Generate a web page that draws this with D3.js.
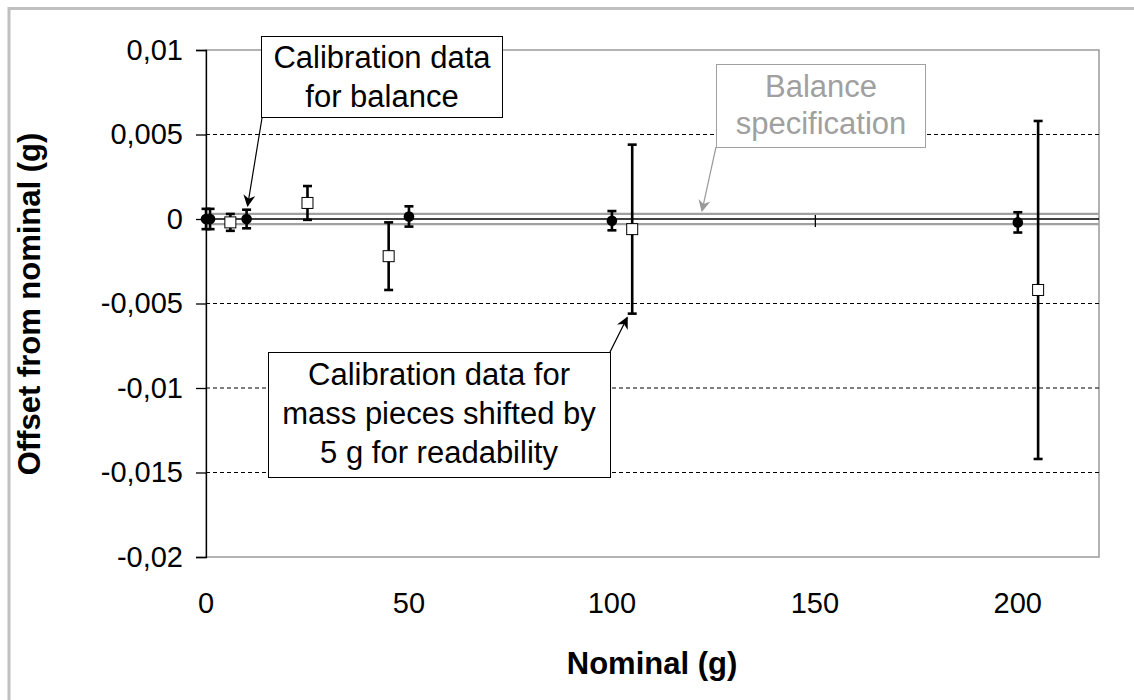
<!DOCTYPE html>
<html>
<head>
<meta charset="utf-8">
<script src="https://cdn.jsdelivr.net/npm/d3@7"></script>
<style>
  html, body { margin: 0; padding: 0; background: #fff; }
  svg { display: block; font-family: "Liberation Sans", Arial, sans-serif; }
</style>
</head>
<body>
<svg id="chart" width="1134" height="700"></svg>
<script>
// ---------- data ----------
const balanceNominal = [0, 1, 10, 50, 100, 200];
const balanceOffset  = [0.0000, 0.0000, 0.0000, 0.00015, -0.0001, -0.0002];
const balanceUnc     = [0.0006, 0.0006, 0.00055, 0.0006, 0.00057, 0.0006];

const massNominalShifted = [6, 25, 45, 105, 205];
const massOffset         = [-0.0002, 0.00095, -0.0022, -0.0006, -0.0042];
const massUnc            = [0.0005, 0.001, 0.002, 0.005, 0.01];

const specLimit = 0.0003;

const yTicks = [0.01, 0.005, 0, -0.005, -0.01, -0.015, -0.02];
const yTickLabels = ["0,01", "0,005", "0", "-0,005", "-0,01", "-0,015", "-0,02"];
const gridValues = [0.005, -0.005, -0.01, -0.015];
const xTicks = [0, 50, 100, 150, 200];
const xTickLabels = ["0", "50", "100", "150", "200"];

// ---------- layout ----------
const svg = d3.select("#chart");
const plot = { left: 206, right: 1099, top: 50, bottom: 557 };
const x = d3.scaleLinear().domain([0, 220]).range([plot.left, plot.right]);
const y = d3.scaleLinear().domain([-0.02, 0.01]).range([plot.bottom, plot.top]);

// outer frame
svg.append("rect").attr("x", 9).attr("y", 8.5).attr("width", 1300).attr("height", 900)
  .attr("fill", "none").attr("stroke", "#c0c0c0").attr("stroke-width", 3);

// plot border (gray)
svg.append("rect").attr("x", plot.left).attr("y", plot.top)
  .attr("width", plot.right - plot.left).attr("height", plot.bottom - plot.top)
  .attr("fill", "none").attr("stroke", "#9a9a9a").attr("stroke-width", 1.5);

// gridlines
svg.append("g").selectAll("line").data(gridValues).join("line")
  .attr("x1", plot.left).attr("x2", plot.right)
  .attr("y1", d => y(d)).attr("y2", d => y(d))
  .attr("stroke", "#000").attr("stroke-width", 1).attr("stroke-dasharray", "4,3");

// y axis
const yAxis = d3.axisLeft(y).tickValues(yTicks).tickSize(10)
  .tickFormat((d, i) => yTickLabels[i]).tickPadding(13);
const gy = svg.append("g").attr("transform", `translate(${plot.left},0)`).call(yAxis);
gy.select(".domain").attr("stroke", "#000").attr("stroke-width", 1.3);
gy.selectAll(".tick line").attr("stroke", "#000").attr("stroke-width", 1.3);
gy.selectAll(".tick text").attr("font-size", 29).attr("fill", "#000")
  .attr("font-family", "Liberation Sans, Arial, sans-serif");

// balance specification lines
svg.append("g").selectAll("line").data([specLimit, -specLimit]).join("line")
  .attr("x1", plot.left).attr("x2", plot.right)
  .attr("y1", d => y(d)).attr("y2", d => y(d))
  .attr("stroke", "#a0a0a0").attr("stroke-width", 2.2);

// x axis at y = 0
const xAxis = d3.axisBottom(x).tickValues(xTicks).tickSize(8).tickFormat("");
const gx = svg.append("g").attr("transform", `translate(0,${y(0)})`).call(xAxis);
gx.select(".domain").attr("d", `M${plot.left},0H${plot.right}`).attr("stroke", "#000").attr("stroke-width", 1.5);
gx.selectAll(".tick line").attr("stroke", "#000").attr("stroke-width", 1.3).attr("y1", -4);

// x tick labels at bottom
svg.append("g").selectAll("text").data(xTicks).join("text")
  .attr("x", d => x(d)).attr("y", 613)
  .attr("text-anchor", "middle").attr("font-size", 29).attr("fill", "#000")
  .text((d, i) => xTickLabels[i]);

// axis titles
svg.append("text").attr("x", 652).attr("y", 674).attr("text-anchor", "middle")
  .attr("font-size", 31).attr("font-weight", "bold").text("Nominal (g)");
svg.append("text").attr("transform", "translate(40,304) rotate(-90)")
  .attr("text-anchor", "middle").attr("font-size", 31).attr("font-weight", "bold")
  .text("Offset from nominal (g)");

// error bars helper
function errorBars(g, xs, ys, us) {
  const data = xs.map((xv, i) => ({ x: xv, y: ys[i], u: us[i] }));
  const cap = 4.5;
  g.selectAll("line.v").data(data).join("line").attr("class", "v")
    .attr("x1", d => x(d.x)).attr("x2", d => x(d.x))
    .attr("y1", d => y(d.y + d.u)).attr("y2", d => y(d.y - d.u))
    .attr("stroke", "#000").attr("stroke-width", 2.6);
  g.selectAll("line.ct").data(data).join("line").attr("class", "ct")
    .attr("x1", d => x(d.x) - cap).attr("x2", d => x(d.x) + cap)
    .attr("y1", d => y(d.y + d.u)).attr("y2", d => y(d.y + d.u))
    .attr("stroke", "#000").attr("stroke-width", 2.6);
  g.selectAll("line.cb").data(data).join("line").attr("class", "cb")
    .attr("x1", d => x(d.x) - cap).attr("x2", d => x(d.x) + cap)
    .attr("y1", d => y(d.y - d.u)).attr("y2", d => y(d.y - d.u))
    .attr("stroke", "#000").attr("stroke-width", 2.6);
  return data;
}

// balance points
const gB = svg.append("g");
const bData = errorBars(gB, balanceNominal, balanceOffset, balanceUnc);
gB.selectAll("circle").data(bData).join("circle")
  .attr("cx", d => x(d.x)).attr("cy", d => y(d.y)).attr("r", 5.3).attr("fill", "#000");

// mass pieces
const gM = svg.append("g");
const mData = errorBars(gM, massNominalShifted, massOffset, massUnc);
gM.selectAll("rect").data(mData).join("rect")
  .attr("x", d => x(d.x) - 5.5).attr("y", d => y(d.y) - 5.5)
  .attr("width", 11).attr("height", 11)
  .attr("fill", "#fff").attr("stroke", "#000").attr("stroke-width", 1);

// arrow markers
const defs = svg.append("defs");
[["arrBlack", "#000"], ["arrGray", "#9a9a9a"]].forEach(([id, c]) => {
  defs.append("marker").attr("id", id).attr("viewBox", "0 0 10 10")
    .attr("refX", 9).attr("refY", 5)
    .attr("markerUnits", "userSpaceOnUse").attr("orient", "auto")
    .attr("markerWidth", 12).attr("markerHeight", 12)
    .append("path").attr("d", "M0,0L10,5L0,10L3,5Z").attr("fill", c);
});

// annotation: balance calibration
svg.append("line").attr("x1", 262).attr("y1", 118).attr("x2", x(10) + 1).attr("y2", y(0.0006) - 3)
  .attr("stroke", "#000").attr("stroke-width", 1.2).attr("marker-end", "url(#arrBlack)");
svg.append("rect").attr("x", 261.5).attr("y", 36.5).attr("width", 241).attr("height", 81)
  .attr("fill", "#fff").attr("stroke", "#000").attr("stroke-width", 1);
svg.append("text").attr("x", 382).attr("y", 68).attr("text-anchor", "middle")
  .attr("font-size", 31).text("Calibration data");
svg.append("text").attr("x", 382).attr("y", 107).attr("text-anchor", "middle")
  .attr("font-size", 31).text("for balance");

// annotation: mass pieces
svg.append("line").attr("x1", 610).attr("y1", 352).attr("x2", x(105) - 5).attr("y2", y(-0.0056) + 4)
  .attr("stroke", "#000").attr("stroke-width", 1.2).attr("marker-end", "url(#arrBlack)");
svg.append("rect").attr("x", 268.5).attr("y", 352.5).attr("width", 342).attr("height", 125)
  .attr("fill", "#fff").attr("stroke", "#000").attr("stroke-width", 1);
["Calibration data for", "mass pieces shifted by", "5 g for readability"].forEach((t, i) => {
  svg.append("text").attr("x", 439).attr("y", 385 + i * 39).attr("text-anchor", "middle")
    .attr("font-size", 31).text(t);
});

// annotation: balance specification
svg.append("line").attr("x1", 716).attr("y1", 147).attr("x2", 702).attr("y2", y(specLimit) - 3)
  .attr("stroke", "#9a9a9a").attr("stroke-width", 1.2).attr("marker-end", "url(#arrGray)");
svg.append("rect").attr("x", 716.5).attr("y", 64.5).attr("width", 209).attr("height", 83)
  .attr("fill", "#fff").attr("stroke", "#a0a0a0").attr("stroke-width", 1);
svg.append("text").attr("x", 821).attr("y", 97).attr("text-anchor", "middle")
  .attr("font-size", 31).attr("fill", "#a0a0a0").text("Balance");
svg.append("text").attr("x", 821).attr("y", 134).attr("text-anchor", "middle")
  .attr("font-size", 31).attr("fill", "#a0a0a0").text("specification");
</script>
</body>
</html>
